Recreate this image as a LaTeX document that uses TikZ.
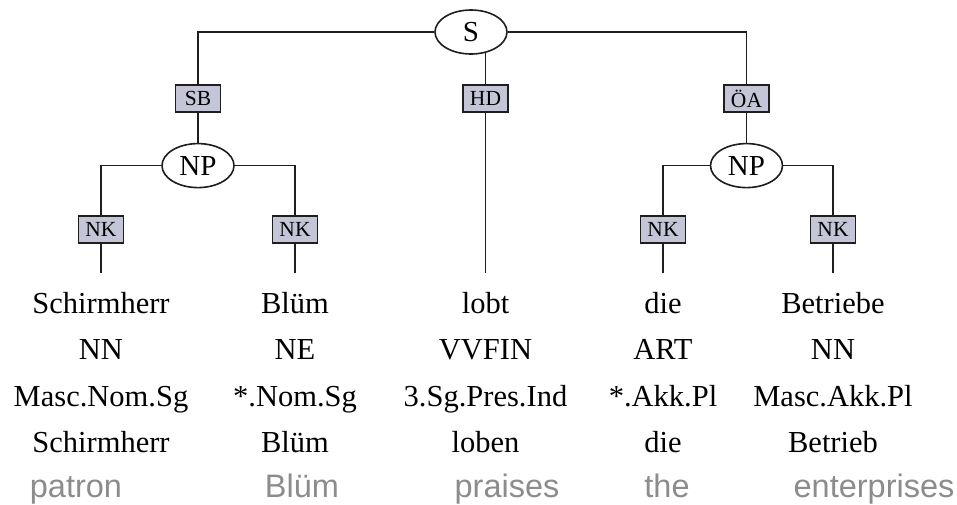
\documentclass[tikz,border=0pt]{standalone}
\usepackage{fontspec}
\setmainfont{Liberation Serif}
\newfontfamily\glossfont{Liberation Sans}
\usetikzlibrary{shapes.geometric,positioning,backgrounds}
\definecolor{edgelab}{RGB}{196,198,216}
\definecolor{glossgray}{RGB}{140,140,140}
\definecolor{treeline}{RGB}{30,30,30}

\begin{document}
\begin{tikzpicture}[x=1pt,y=-1pt,
  cat/.style={ellipse,draw=treeline,fill=white,line width=1.6pt,inner sep=0pt,
    minimum width=72pt,minimum height=44pt,font=\fontsize{29}{31}\selectfont},
  func/.style={rectangle,draw=treeline,fill=edgelab,line width=1.6pt,inner sep=0pt,
    minimum width=45pt,minimum height=27pt,font=\fontsize{21.5}{23}\selectfont},
  word/.style={align=center,anchor=north,inner sep=0pt,
    font=\fontsize{30.5}{46.5}\selectfont},
  gloss/.style={anchor=base,inner sep=0pt,text=glossgray,
    font=\glossfont\fontsize{32.5}{36}\selectfont},
  branch/.style={draw=treeline,line width=1.6pt},
  leaf/.style={branch,shorten >=19pt},
]
  \useasboundingbox (0,0) rectangle (957,504);

  % tree
  \node[cat] (s) at (471,32) {S};
  \node[func] (sb) at (198,98.5) {SB};
  \node[func] (hd) at (485.5,98.5) {HD};
  \node[func] (oa) at (746.5,98.5) {ÖA};
  \node[cat,below=30pt of sb] (npl) {NP};
  \node[cat,below=30pt of oa] (npr) {NP};
  \node[func] (nk1) at (101,229.5) {NK};
  \node[func] (nk2) at (295,229.5) {NK};
  \node[func] (nk3) at (663,229.5) {NK};
  \node[func] (nk4) at (833,229.5) {NK};

  % tokens with tag, morphology and lemma
  \node[word] (w1) at (101,292) {Schirmherr\\NN\\Masc.Nom.Sg\\Schirmherr};
  \node[word] (w2) at (295,292) {Blüm\\NE\\*.Nom.Sg\\Blüm};
  \node[word] (w3) at (485.5,292) {lobt\\VVFIN\\3.Sg.Pres.Ind\\loben};
  \node[word] (w4) at (663,292) {die\\ART\\*.Akk.Pl\\die};
  \node[word] (w5) at (833,292) {Betriebe\\NN\\Masc.Akk.Pl\\Betrieb};

  % english glosses
  \node[gloss] (g1) at (76,497) {patron};
  \node[gloss] (g2) at (302,497) {Blüm};
  \node[gloss] (g3) at (507,497) {praises};
  \node[gloss] (g4) at (667,497) {the};
  \node[gloss] (g5) at (874,497) {enterprises};

  \begin{scope}[on background layer]
    \draw[branch] (s.west) -| (sb.north);
    \draw[branch] (s.east) -| (oa.north);
    \draw[branch] (hd.north) -- (hd.north |- s.center);
    \draw[branch] (sb) -- (npl);
    \draw[branch] (oa) -- (npr);
    \draw[branch] (npl.west) -| (nk1.north);
    \draw[branch] (npl.east) -| (nk2.north);
    \draw[branch] (npr.west) -| (nk3.north);
    \draw[branch] (npr.east) -| (nk4.north);
    \draw[leaf] (nk1.south) -- (w1.north);
    \draw[leaf] (nk2.south) -- (w2.north);
    \draw[leaf] (hd.south) -- (w3.north);
    \draw[leaf] (nk3.south) -- (w4.north);
    \draw[leaf] (nk4.south) -- (w5.north);
  \end{scope}
\end{tikzpicture}
\end{document}
